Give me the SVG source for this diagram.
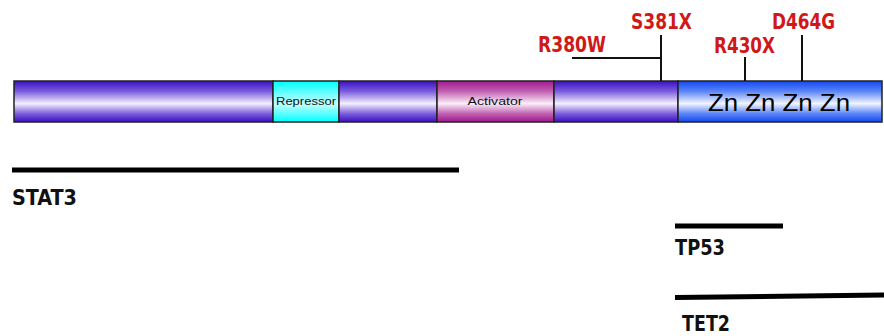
<svg xmlns="http://www.w3.org/2000/svg" width="884" height="336" viewBox="0 0 884 336">
<defs>
<linearGradient id="gPurple" x1="0" y1="0" x2="0" y2="1">
<stop offset="0" stop-color="#3a0fc0"/>
<stop offset="0.25" stop-color="#7a5cdc"/>
<stop offset="0.55" stop-color="#f4f0ff"/>
<stop offset="0.8" stop-color="#7a5cdc"/>
<stop offset="1" stop-color="#3a0fc0"/>
</linearGradient>
<linearGradient id="gCyan" x1="0" y1="0" x2="0" y2="1">
<stop offset="0" stop-color="#00ffff"/>
<stop offset="0.55" stop-color="#c8ffff"/>
<stop offset="1" stop-color="#00ffff"/>
</linearGradient>
<linearGradient id="gMag" x1="0" y1="0" x2="0" y2="1">
<stop offset="0" stop-color="#a0188f"/>
<stop offset="0.25" stop-color="#c060b0"/>
<stop offset="0.55" stop-color="#fbeef8"/>
<stop offset="0.8" stop-color="#c060b0"/>
<stop offset="1" stop-color="#a0188f"/>
</linearGradient>
<linearGradient id="gBlue" x1="0" y1="0" x2="0" y2="1">
<stop offset="0" stop-color="#1448f0"/>
<stop offset="0.25" stop-color="#5a84f8"/>
<stop offset="0.55" stop-color="#f2f5ff"/>
<stop offset="0.8" stop-color="#5a84f8"/>
<stop offset="1" stop-color="#1448f0"/>
</linearGradient>
<style>
.seg{stroke:#222;stroke-width:1.5}
.mut{font-family:"Liberation Sans Narrow","DejaVu Sans Condensed","Liberation Sans",sans-serif;font-weight:bold;font-size:21px;fill:#d01818}
.gene{font-family:"Liberation Sans Narrow","DejaVu Sans Condensed","Liberation Sans",sans-serif;font-weight:bold;font-size:22px;fill:#111}
.small{font-family:"Liberation Sans","Arial",sans-serif;font-size:10px;fill:#111}
.tick{stroke:#111;stroke-width:2;fill:none}
.bar{stroke:#000;stroke-width:5;stroke-linecap:butt}
</style>
</defs>
<g id="protein">
<rect class="seg" x="14" y="81" width="259" height="41" fill="url(#gPurple)"/>
<rect class="seg" x="273" y="81" width="66" height="41" fill="url(#gCyan)"/>
<rect class="seg" x="339" y="81" width="98" height="41" fill="url(#gPurple)"/>
<rect class="seg" x="437" y="81" width="117" height="41" fill="url(#gMag)"/>
<rect class="seg" x="554" y="81" width="124" height="41" fill="url(#gPurple)"/>
<rect class="seg" x="678" y="81" width="204" height="41" fill="url(#gBlue)"/>
<text class="small" x="306" y="105" text-anchor="middle" textLength="60" lengthAdjust="spacingAndGlyphs">Repressor</text>
<text class="small" x="495" y="105" text-anchor="middle" textLength="55" lengthAdjust="spacingAndGlyphs">Activator</text>
<text x="779" y="111" text-anchor="middle" font-family="Liberation Sans, Arial, sans-serif" font-size="24" fill="#000" textLength="142" lengthAdjust="spacingAndGlyphs">Zn Zn Zn Zn</text>
</g>
<g id="connectors">
<polyline class="tick" points="572,58 661,58 661,81"/>
<line class="tick" x1="661" y1="35" x2="661" y2="58"/>
<line class="tick" x1="745" y1="57" x2="745" y2="81"/>
<line class="tick" x1="802" y1="35" x2="802" y2="81"/>
</g>
<g id="mutations">
<text class="mut" x="538" y="52" textLength="68" lengthAdjust="spacingAndGlyphs">R380W</text>
<text class="mut" x="631" y="29" textLength="61" lengthAdjust="spacingAndGlyphs">S381X</text>
<text class="mut" x="714" y="53" textLength="61" lengthAdjust="spacingAndGlyphs">R430X</text>
<text class="mut" x="772" y="29" textLength="63" lengthAdjust="spacingAndGlyphs">D464G</text>
</g>
<g id="stat3">
<line class="bar" x1="12" y1="170" x2="459" y2="170"/>
<text class="gene" x="12" y="205" textLength="65" lengthAdjust="spacingAndGlyphs">STAT3</text>
</g>
<g id="tp53">
<line class="bar" x1="675" y1="226" x2="783" y2="226"/>
<text class="gene" x="675" y="255" textLength="50" lengthAdjust="spacingAndGlyphs">TP53</text>
</g>
<g id="tet2">
<line class="bar" x1="675" y1="297.5" x2="884" y2="295"/>
<text class="gene" x="682" y="331" textLength="48" lengthAdjust="spacingAndGlyphs">TET2</text>
</g>
</svg>
